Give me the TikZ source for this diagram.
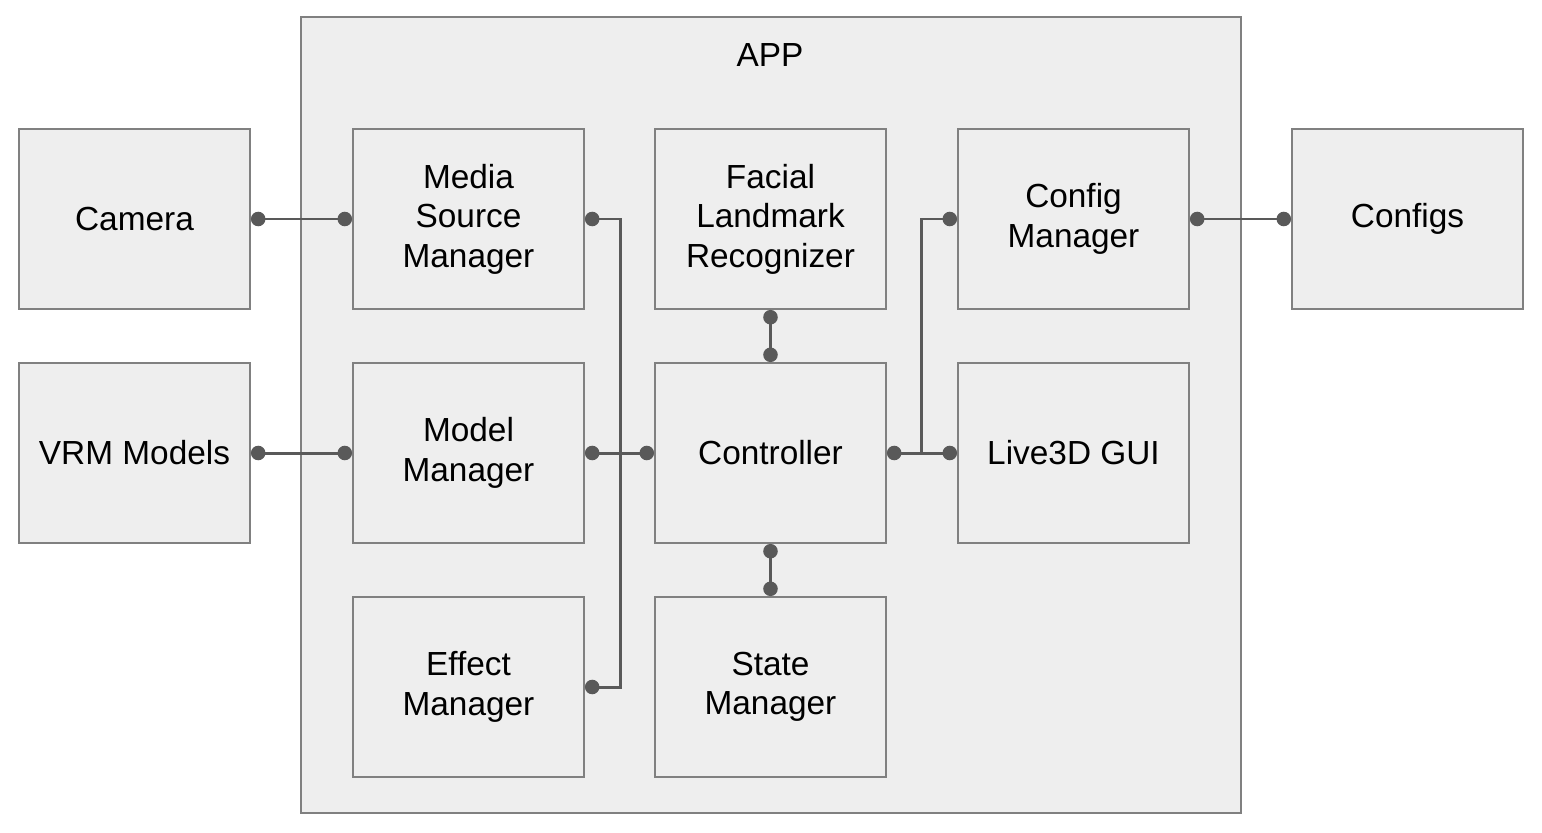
\documentclass[tikz,border=0pt]{standalone}
\usepackage{fontspec}
\setmainfont{Liberation Sans}
\usetikzlibrary{arrows.meta}
\definecolor{boxfill}{HTML}{EEEEEE}
\definecolor{boxline}{HTML}{808080}
\definecolor{wirecol}{HTML}{595959}
\begin{document}
\begin{tikzpicture}[x=0.02cm, y=-0.02cm,
    module/.style={draw=boxline, fill=boxfill, line width=1.1pt,
      minimum width=4.62cm, minimum height=3.6cm, align=center,
      font=\fontsize{19}{22.5}\selectfont},
    wire/.style={draw=wirecol, line width=1.7pt,
      {Circle[length=0.29cm]}-{Circle[length=0.29cm]}}]
  \useasboundingbox (0,0) rectangle (1542,832);

  % the app frame
  \node[draw=boxline, fill=boxfill, line width=1.1pt,
    minimum width=18.8cm, minimum height=15.92cm] (app) at (771,415) {};
  \node[font=\fontsize{19}{22.5}\selectfont] (applbl) at (770,55) {APP};

  % outside
  \node[module] (cam) at (134.5,219) {Camera};
  \node[module] (vrm) at (134.5,453) {VRM Models};
  \node[module] (cfgs) at (1407.5,219) {Configs};

  % inside
  \node[module] (media) at (468.5,219) {Media\\Source\\Manager};
  \node[module] (model) at (468.5,453) {Model\\Manager};
  \node[module] (effect) at (468.5,687) {Effect\\Manager};
  \node[module] (facial) at (770.5,219) {Facial\\Landmark\\Recognizer};
  \node[module] (ctrl) at (770.5,453) {Controller};
  \node[module] (state) at (770.5,687) {State\\Manager};
  \node[module] (cfg) at (1073.5,219) {Config\\Manager};
  \node[module] (gui) at (1073.5,453) {Live3D GUI};

  \draw[wire] (cam.east) -- (media.west);
  \draw[wire] (vrm.east) -- (model.west);
  \draw[wire] (media.east) -- ++(36,0) |- (effect.east);
  \draw[wire] (model.east) -- (ctrl.west);
  \draw[wire] (facial.south) -- (ctrl.north);
  \draw[wire] (ctrl.south) -- (state.north);
  \draw[wire] (ctrl.east) -- (gui.west);
  \draw[wire, {Circle[length=0.29cm]}-{Circle[length=0.29cm]}, -{Circle[length=0.29cm]}]
    ([xshift=0.7cm]ctrl.east) |- (cfg.west);
  \draw[wire] (cfg.east) -- (cfgs.west);
\end{tikzpicture}
\end{document}
